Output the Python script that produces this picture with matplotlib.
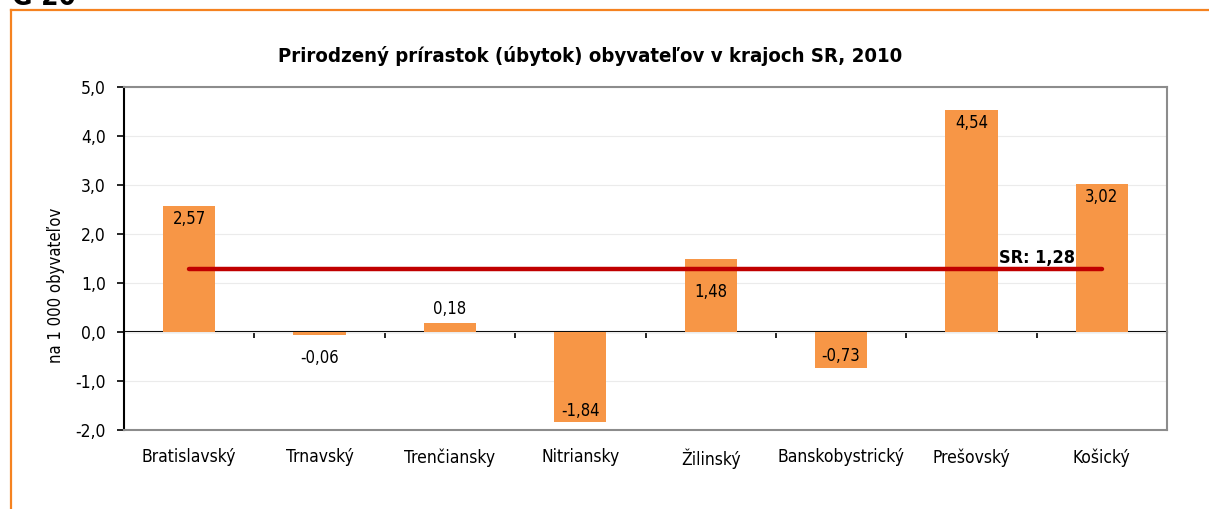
import numpy as np
import matplotlib.pyplot as plt
from matplotlib.lines import Line2D

regions = ["Bratislavský", "Trnavský", "Trenčiansky", "Nitriansky",
           "Žilinský", "Banskobystrický", "Prešovský", "Košický"]
values = [2.57, -0.06, 0.18, -1.84, 1.48, -0.73, 4.54, 3.02]
sr_value = 1.28
yticks = [-2, -1, 0, 1, 2, 3, 4, 5]

# pixel offset of each value label from the bar end (+ up)
label_dy = [-13, -23, 14, 11, -33, 12, -13, -13]

plt.rcParams['font.family'] = ["DejaVu Sans"]
plt.rcParams['font.stretch'] = "condensed"

fig = plt.figure(figsize=(12.09, 5.09), dpi=100)
W, H = 1209, 509
ax = fig.add_axes([124 / W, 1 - 430 / H, (1167 - 124) / W, (430 - 87) / H])

x = np.arange(len(regions))
ax.bar(x, values, width=0.4, color="#F79646", zorder=2)
for xi, v, dy in zip(x, values, label_dy):
    ax.annotate(f"{v:.2f}".replace(".", ","), (xi, v), xytext=(0, dy * 0.72),
                textcoords="offset points", ha="center", va="center",
                fontsize=12, color="#000000", zorder=4)

ax.plot([x[0], x[-1]], [sr_value, sr_value], color="#C00000", lw=3.2,
        solid_capstyle="round", zorder=3)
ax.annotate(f"SR: {sr_value:.2f}".replace(".", ","), (x[-1], sr_value),
            xytext=(-103 * 0.72, 11 * 0.72), textcoords="offset points",
            ha="left", va="center", fontsize=13, fontweight="bold", zorder=4)

ax.set_xlim(-0.5, len(regions) - 0.5)
ax.set_ylim(-2, 5)
ax.set_yticks(yticks)
ax.set_yticklabels([f"{t:.1f}".replace(".", ",") for t in yticks], fontsize=12.5)
ax.yaxis.grid(True, color="#EBEBEB", lw=0.8, zorder=0)
ax.set_axisbelow(True)
ax.tick_params(axis="y", direction="out", length=5, width=1.2, color="black", pad=8)

ax.set_xticks(x)
ax.set_xticklabels(regions, fontsize=12.5)
ax.tick_params(axis="x", length=0, pad=13)

for s in ["top", "right", "bottom"]:
    ax.spines[s].set_color("#8C8C8C")
    ax.spines[s].set_linewidth(1.5)
ax.spines["left"].set_color("black")
ax.spines["left"].set_linewidth(1.5)

# zero line with category separators
zx = ax.secondary_xaxis(2 / 7)
zx.set_xticks(np.arange(-0.5, len(regions), 1.0))
zx.set_xticklabels([])
zx.tick_params(direction="out", length=4, width=1.2, color="black")
zx.spines["bottom"].set_color("black")
zx.spines["bottom"].set_linewidth(1.5)

ax.set_ylabel("na 1 000 obyvateľov", fontsize=12)
ax.yaxis.set_label_coords((65 - 124) / 1043, (430 - 285) / 343)

fig.suptitle("Prirodzený prírastok (úbytok) obyvateľov v krajoch SR, 2010",
             x=590 / W, y=1 - 56 / H, va="center", fontsize=14.6,
             fontweight="bold")

# orange frame and cut-off heading
orange = "#F58220"
fig.add_artist(Line2D([11 / W, 11 / W], [0, 1 - 10 / H], transform=fig.transFigure,
                      color=orange, lw=1.6))
fig.add_artist(Line2D([11 / W, 1], [1 - 10 / H, 1 - 10 / H], transform=fig.transFigure,
                      color=orange, lw=1.6))
fig.text(12 / W, 1 - 5 / H, "G 20", fontsize=20, fontweight="bold", va="baseline")

fig.savefig("out.png", dpi=100)
